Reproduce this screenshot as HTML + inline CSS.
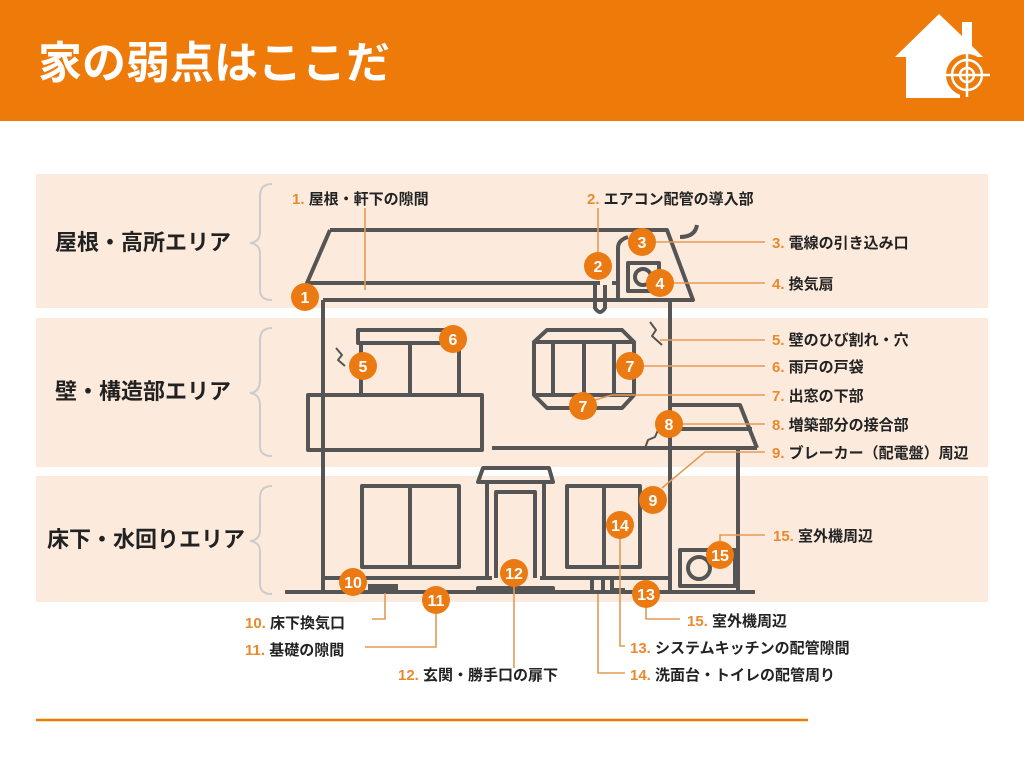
<!DOCTYPE html>
<html><head><meta charset="utf-8"><style>
html,body{margin:0;padding:0;background:#fff;}
svg{display:block;font-family:"Liberation Sans","Noto Sans CJK JP",sans-serif;}
.lb{font-size:15px;font-weight:bold;fill:#222;}
.n{fill:#E8892E;}
.ar{font-size:22px;font-weight:bold;fill:#222;}
.h{fill:none;stroke:#555;stroke-width:4;stroke-linejoin:round;}
.l{fill:none;stroke:#E39A55;stroke-width:1.6;}
.m circle{fill:#EC7A12;}
.m text{fill:#fff;font-size:16px;font-weight:bold;text-anchor:middle;}
</style></head><body>
<svg width="1024" height="764" viewBox="0 0 1024 764">
<rect x="0" y="0" width="1024" height="121" fill="#EE7A0A"/>
<text x="38" y="78" font-size="44" font-weight="bold" fill="#fff">家の弱点はここだ</text>
<!-- icon -->
<g fill="#fff">
<polygon points="895,57 939,14 962,36 962,22 972,22 972,46 983,57"/>
<rect x="906" y="55" width="54" height="43"/>
</g>
<circle cx="967" cy="75" r="21" fill="#EE7A0A"/>
<g fill="none" stroke="#fff" stroke-width="2.5">
<circle cx="967" cy="75" r="15"/><circle cx="967" cy="75" r="7"/>
<line x1="967" y1="53" x2="967" y2="97"/><line x1="945" y1="75" x2="990" y2="75"/>
</g>
<!-- bands -->
<rect x="36" y="174" width="952" height="134" fill="#FCEBDD"/>
<rect x="36" y="318" width="952" height="149" fill="#FCEBDD"/>
<rect x="36" y="476" width="952" height="126" fill="#FCEBDD"/>
<text class="ar" x="55" y="250">屋根・高所エリア</text>
<text class="ar" x="55" y="399">壁・構造部エリア</text>
<text class="ar" x="47" y="547">床下・水回りエリア</text>
<g fill="none" stroke="#ccc" stroke-width="2">
<path d="M272,184 Q260,184 260,196 L260,232 Q260,242 250,243 Q260,244 260,254 L260,290 Q260,300 272,300"/>
<path d="M272,328 Q260,328 260,340 L260,380 Q260,392 250,393 Q260,394 260,406 L260,446 Q260,456 272,456"/>
<path d="M272,486 Q260,486 260,498 L260,530 Q260,540 250,541 Q260,542 260,552 L260,584 Q260,594 272,594"/>
</g>
<!-- house -->
<g class="h">
<path d="M330,230 L667,230 L693,300 L323,300"/>
<path d="M330,230 L307,283 L600,283"/>
<path d="M612,283 L618,283 M618,298 L618,248 Q618,240 628,237"/>
<path d="M595,285 L595,308 Q600,316 605,308 L605,285"/>
<rect x="628" y="263" width="31" height="28"/>
<circle cx="643" cy="277" r="8"/>
<path d="M680,237 Q695,237 697,225"/>
<line x1="323" y1="300" x2="323" y2="592"/>
<line x1="670" y1="300" x2="670" y2="592"/>
<line x1="285" y1="592" x2="755" y2="592"/>
<rect x="308" y="395" width="174" height="55"/>
<rect x="358" y="330" width="100" height="13"/>
<line x1="361" y1="343" x2="361" y2="395"/><line x1="410" y1="343" x2="410" y2="395"/><line x1="459" y1="343" x2="459" y2="395"/>
<path d="M547,330 L622,330 L634,342 L634,395 L622,408 L547,408 L534,395 L534,342 Z"/>
<line x1="534" y1="342" x2="634" y2="342"/><line x1="534" y1="395" x2="634" y2="395"/>
<line x1="553" y1="342" x2="553" y2="395"/><line x1="584" y1="342" x2="584" y2="395"/><line x1="614" y1="342" x2="614" y2="395"/>
<line x1="492" y1="448" x2="757" y2="448"/>
<path d="M670,405 L740,405 L757,448"/>
<line x1="670" y1="429" x2="752" y2="429"/>
<line x1="738" y1="448" x2="738" y2="592"/>
<rect x="362" y="486" width="97" height="81"/><line x1="410" y1="486" x2="410" y2="567"/>
<rect x="567" y="486" width="73" height="81"/><line x1="604" y1="486" x2="604" y2="567"/>
<path d="M478,482 L553,482 L549,468 L483,468 Z"/>
<path d="M487,482 L487,578 M544,482 L544,578"/>
<path d="M496,578 L496,492 L535,492 L535,578"/>
<line x1="323" y1="578" x2="492" y2="578"/><line x1="540" y1="578" x2="670" y2="578"/>
<path d="M478,592 L478,588 L553,588 L553,592"/>
<path d="M592,592 L592,580 M603,580 L603,592"/>
<path d="M612,580 L612,590 L625,590"/>
<rect x="680" y="550" width="55" height="36"/>
<circle cx="699" cy="568" r="11"/>
<path d="M336,348 L342,355 L338,360 L345,366" stroke-width="2"/>
<path d="M650,322 L656,330 L652,336 L662,345" stroke-width="2"/>
<path d="M645,448 L648,440 L655,437 L658,430" stroke-width="2"/>
</g>
<rect x="368" y="584" width="30" height="9" fill="#555"/>
<!-- leaders -->
<g class="l">
<line x1="365" y1="208" x2="365" y2="290"/>
<line x1="598" y1="208" x2="598" y2="253"/>
<line x1="654" y1="242" x2="765" y2="242"/>
<line x1="673" y1="283" x2="765" y2="283"/>
<line x1="660" y1="340" x2="765" y2="340"/>
<line x1="643" y1="366" x2="765" y2="366"/>
<line x1="595" y1="400" x2="612" y2="395"/><line x1="612" y1="395" x2="765" y2="395"/>
<line x1="683" y1="424" x2="765" y2="424"/>
<path d="M662,488 L705,452 L765,452"/>
<path d="M720,542 L720,535 L765,535"/>
<path d="M385,593 L385,619 L372,619"/>
<path d="M436,613 L436,647 L365,647"/>
<path d="M514,586 L514,668"/>
<path d="M646,607 L646,619 L680,619"/>
<path d="M620,538 L620,646 L625,646"/>
<path d="M598,594 L598,673 L625,673"/>
</g>
<!-- labels -->
<g class="lb">
<text x="292" y="204"><tspan class="n">1.</tspan> 屋根・軒下の隙間</text>
<text x="587" y="204"><tspan class="n">2.</tspan> エアコン配管の導入部</text>
<text x="772" y="248"><tspan class="n">3.</tspan> 電線の引き込み口</text>
<text x="772" y="289"><tspan class="n">4.</tspan> 換気扇</text>
<text x="772" y="345"><tspan class="n">5.</tspan> 壁のひび割れ・穴</text>
<text x="772" y="372"><tspan class="n">6.</tspan> 雨戸の戸袋</text>
<text x="772" y="401"><tspan class="n">7.</tspan> 出窓の下部</text>
<text x="772" y="430"><tspan class="n">8.</tspan> 増築部分の接合部</text>
<text x="772" y="458"><tspan class="n">9.</tspan> ブレーカー（配電盤）周辺</text>
<text x="773" y="541"><tspan class="n">15.</tspan> 室外機周辺</text>
<text x="245" y="628"><tspan class="n">10.</tspan> 床下換気口</text>
<text x="245" y="655"><tspan class="n">11.</tspan> 基礎の隙間</text>
<text x="398" y="680"><tspan class="n">12.</tspan> 玄関・勝手口の扉下</text>
<text x="687" y="626"><tspan class="n">15.</tspan> 室外機周辺</text>
<text x="630" y="653"><tspan class="n">13.</tspan> システムキッチンの配管隙間</text>
<text x="630" y="680"><tspan class="n">14.</tspan> 洗面台・トイレの配管周り</text>
</g>
<!-- markers -->
<g class="m">
<g><circle cx="305" cy="297" r="14"/><text x="305" y="303">1</text></g>
<g><circle cx="598" cy="266" r="14"/><text x="598" y="272">2</text></g>
<g><circle cx="642" cy="242" r="14"/><text x="642" y="248">3</text></g>
<g><circle cx="660" cy="283" r="14"/><text x="660" y="289">4</text></g>
<g><circle cx="363" cy="366" r="14"/><text x="363" y="372">5</text></g>
<g><circle cx="453" cy="339" r="14"/><text x="453" y="345">6</text></g>
<g><circle cx="630" cy="366" r="14"/><text x="630" y="372">7</text></g>
<g><circle cx="583" cy="406" r="14"/><text x="583" y="412">7</text></g>
<g><circle cx="669" cy="424" r="14"/><text x="669" y="430">8</text></g>
<g><circle cx="653" cy="500" r="14"/><text x="653" y="506">9</text></g>
<g><circle cx="353" cy="582" r="14"/><text x="353" y="588">10</text></g>
<g><circle cx="436" cy="600" r="14"/><text x="436" y="606">11</text></g>
<g><circle cx="514" cy="573" r="14"/><text x="514" y="579">12</text></g>
<g><circle cx="646" cy="594" r="14"/><text x="646" y="600">13</text></g>
<g><circle cx="620" cy="525" r="14"/><text x="620" y="531">14</text></g>
<g><circle cx="720" cy="555" r="14"/><text x="720" y="561">15</text></g>
</g>
<line x1="36" y1="720" x2="808" y2="720" stroke="#EE7A0A" stroke-width="2.5"/>
</svg>
</body></html>
